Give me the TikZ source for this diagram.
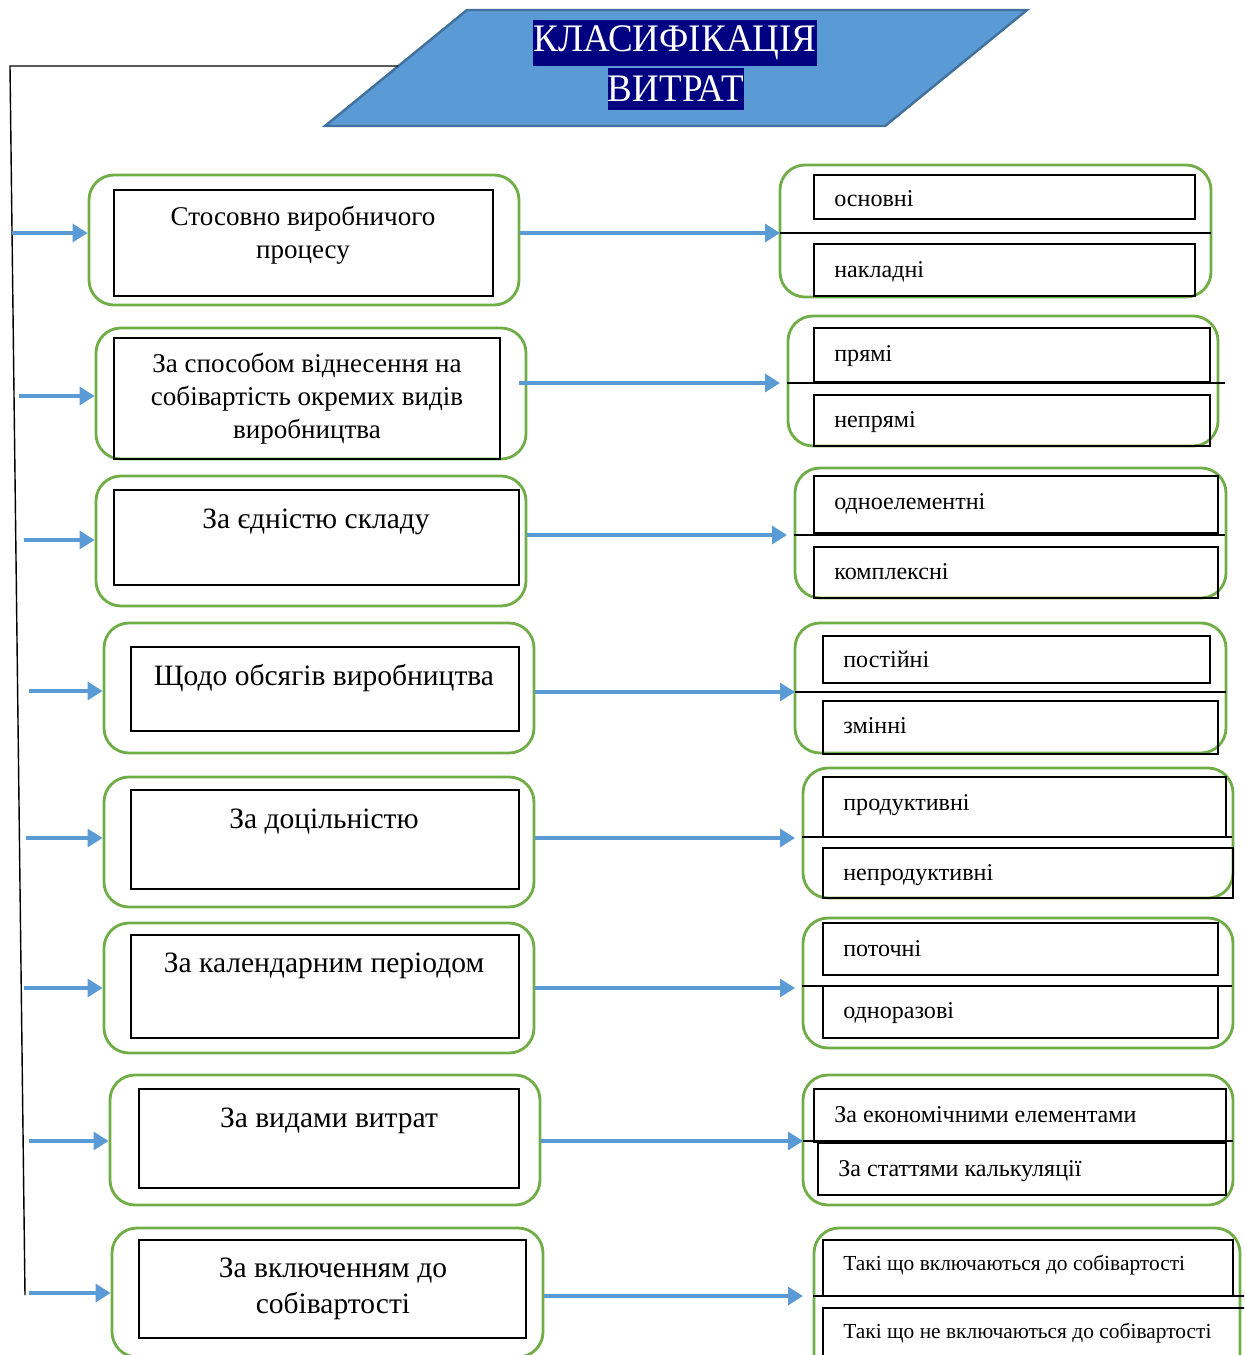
\documentclass[tikz,border=0pt]{standalone}
\usepackage{fontspec}
\setmainfont{Liberation Serif}
\newfontfamily\ttlfont{Liberation Serif}[FakeStretch=0.95]
\usetikzlibrary{arrows.meta,fit}

\definecolor{boxgreen}{HTML}{70AD47}
\definecolor{arrblue}{HTML}{5B9BD5}
\definecolor{titlefill}{HTML}{5B9BD5}
\definecolor{titleedge}{HTML}{41719C}
\definecolor{titlenavy}{HTML}{000080}

\tikzset{
  gbox/.style={draw=boxgreen, line width=1.6pt, rounded corners=0.5cm, inner sep=0pt},
  ibox/.style={draw=black, line width=0.8pt, inner sep=0pt},
  arr/.style={draw=arrblue, line width=1.8pt, -{Triangle[length=0.3cm,width=0.36cm]}},
  ltext/.style={align=center, inner sep=0pt, font=\fontsize{16.8}{20.6}\selectfont},
  ltextsm/.style={ltext, font=\fontsize{15.4}{18.8}\selectfont},
  rtext/.style={anchor=base west, inner sep=0pt, font=\fontsize{13.7}{16}\selectfont},
  rtextsm/.style={rtext, font=\fontsize{12.2}{14}\selectfont},
  divline/.style={draw=black, line width=0.8pt},
  ttl/.style={fill=titlenavy, text=white, inner xsep=0pt, minimum height=0.84cm,
    font=\ttlfont\fontsize{22.2}{24}\selectfont}
}

\begin{document}
\begin{tikzpicture}[x=0.02cm, y=-0.02cm]
\clip (0,0) rectangle (1244,1355);

% Title
\coordinate (p1) at (467,10);
\coordinate (p2) at (1027,10);
\coordinate (p3) at (885,126);
\coordinate (p4) at (325,126);
\draw[fill=titlefill, draw=titleedge, line width=1.4pt] (p1) -- (p2) -- (p3) -- (p4) -- cycle;
\node[ttl] (ttl1) at (675,43) {КЛАСИФІКАЦІЯ};
\node[ttl] (ttl2) at (676,89) {ВИТРАТ};

% Left line
\coordinate (pl) at (398,66);
\coordinate (vtop) at (10,66);
\coordinate (vbot) at (25,1295);
\draw[line width=0.8pt] (pl) -- (vtop) -- (vbot);

% Row 1
\node[gbox, fit={(89,175) (519,305)}] (lg1) {};
\node[ibox, fit={(114,190) (493,296)}] (li1) {};
\node[ltextsm] (lt1) at (303,235) {Стосовно виробничого\\процесу};
\node[gbox, fit={(780,165) (1211,297)}] (rg1) {};
\node[ibox, fit={(814,175) (1195,219)}] (ra1) {};
\node[ibox, fit={(814,244) (1195,296)}] (rb1) {};
\node[rtext] (rat1) at (834,206) {основні};
\node[rtext] (rbt1) at (834,277) {накладні};
\coordinate (s1) at (12,233);
\coordinate (d1) at (780,233);
\draw[arr] (s1) -- (s1 -| lg1.west);
\draw[arr] (lg1.east |- d1) -- (d1);
\draw[divline] (d1) -- ++(431,0);

% Row 2
\node[gbox, fit={(96,328) (526,459)}] (lg2) {};
\node[ibox, fit={(114,338) (500,459)}] (li2) {};
\node[ltextsm] (lt2) at (307,399) {За способом віднесення на\\собівартість окремих видів\\виробництва};
\node[gbox, fit={(788,316) (1218,446)}] (rg2) {};
\node[ibox, fit={(814,328) (1210,382)}] (ra2) {};
\node[ibox, fit={(814,395) (1210,446)}] (rb2) {};
\node[rtext] (rat2) at (834,361) {прямі};
\node[rtext] (rbt2) at (834,427) {непрямі};
\coordinate (s2) at (19,396);
\coordinate (d2) at (780,383);
\draw[arr] (s2) -- (s2 -| lg2.west);
\draw[arr] (519,383) -- (d2);
\draw[divline] (rg2.west |- d2) -- ++(438,0);

% Row 3
\node[gbox, fit={(96,476) (526,606)}] (lg3) {};
\node[ibox, fit={(114,490) (519,585)}] (li3) {};
\node[ltext, anchor=base] (lt3) at (316,528) {За єдністю складу};
\node[gbox, fit={(795,468) (1226,598)}] (rg3) {};
\node[ibox, fit={(814,476) (1218,533)}] (ra3) {};
\node[ibox, fit={(814,547) (1218,598)}] (rb3) {};
\node[rtext] (rat3) at (834,509) {одноелементні};
\node[rtext] (rbt3) at (834,579) {комплексні};
\coordinate (s3) at (24,540);
\coordinate (d3) at (787,535);
\draw[arr] (s3) -- (s3 -| lg3.west);
\draw[arr] (lg3.east |- d3) -- (d3);
\draw[divline] (rg3.west |- d3) -- ++(431,0);

% Row 4
\node[gbox, fit={(104,623) (534,753)}] (lg4) {};
\node[ibox, fit={(131,647) (519,731)}] (li4) {};
\node[ltext, anchor=base] (lt4) at (324,685) {Щодо обсягів виробництва};
\node[gbox, fit={(795,623) (1226,753)}] (rg4) {};
\node[ibox, fit={(823,636) (1210,683)}] (ra4) {};
\node[ibox, fit={(823,701) (1218,754)}] (rb4) {};
\node[rtext] (rat4) at (843,667) {постійні};
\node[rtext] (rbt4) at (843,733) {змінні};
\coordinate (s4) at (29,691);
\coordinate (d4) at (795,692);
\draw[arr] (s4) -- (s4 -| lg4.west);
\draw[arr] (lg4.east |- d4) -- (d4);
\draw[divline] (d4) -- ++(431,0);

% Row 5
\node[gbox, fit={(104,777) (534,907)}] (lg5) {};
\node[ibox, fit={(131,790) (519,889)}] (li5) {};
\node[ltext, anchor=base] (lt5) at (324,828) {За доцільністю};
\node[gbox, fit={(803,768) (1233,898)}] (rg5) {};
\node[ibox, fit={(823,777) (1226,837)}] (ra5) {};
\node[ibox, fit={(823,848) (1233,898)}] (rb5) {};
\node[rtext] (rat5) at (843,810) {продуктивні};
\node[rtext] (rbt5) at (843,880) {непродуктивні};
\coordinate (s5) at (26,838);
\coordinate (d5) at (795,838);
\draw[arr] (s5) -- (s5 -| lg5.west);
\draw[arr] (lg5.east |- d5) -- (d5);
\draw[divline] (rg5.west |- 0,837) -- ++(430,0);

% Row 6
\node[gbox, fit={(104,923) (534,1053)}] (lg6) {};
\node[ibox, fit={(131,935) (519,1038)}] (li6) {};
\node[ltext, anchor=base] (lt6) at (324,972) {За календарним періодом};
\node[gbox, fit={(803,918) (1233,1048)}] (rg6) {};
\node[ibox, fit={(823,923) (1218,975)}] (ra6) {};
\node[ibox, fit={(823,986) (1218,1038)}] (rb6) {};
\node[rtext] (rat6) at (843,956) {поточні};
\node[rtext] (rbt6) at (843,1018) {одноразові};
\coordinate (s6) at (24,988);
\coordinate (d6) at (795,988);
\draw[arr] (s6) -- (s6 -| lg6.west);
\draw[arr] (lg6.east |- d6) -- (d6);
\draw[divline] (rg6.west |- 0,986) -- ++(430,0);

% Row 7
\node[gbox, fit={(110,1075) (540,1205)}] (lg7) {};
\node[ibox, fit={(139,1089) (519,1188)}] (li7) {};
\node[ltext, anchor=base] (lt7) at (329,1127) {За видами витрат};
\node[gbox, fit={(803,1075) (1233,1205)}] (rg7) {};
\node[ibox, fit={(814,1089) (1226,1142)}] (ra7) {};
\node[ibox, fit={(818,1143) (1226,1195)}] (rb7) {};
\node[rtext] (rat7) at (834,1122) {За економічними елементами};
\node[rtext] (rbt7) at (838,1176) {За статтями калькуляції};
\coordinate (s7) at (29,1141);
\coordinate (d7) at (803,1141);
\draw[arr] (s7) -- (s7 -| lg7.west);
\draw[arr] (lg7.east |- d7) -- (d7);
\draw[divline] (d7) -- ++(430,0);

% Row 8
\node[gbox, fit={(112,1228) (543,1357)}] (lg8) {};
\node[ibox, fit={(139,1240) (526,1338)}] (li8) {};
\node[ltext] (lt8) at (333,1289) {За включенням до\\собівартості};
\node[gbox, fit={(814,1228) (1240,1385)}] (rg8) {};
\node[ibox, fit={(823,1240) (1233,1296)}] (ra8) {};
\node[ibox, fit={(823,1308) (1250,1385)}] (rb8) {};
\node[rtextsm] (rat8) at (843,1270) {Такі що включаються до собівартості};
\node[rtextsm] (rbt8) at (843,1338) {Такі що не включаються до собівартості};
\coordinate (s8) at (29,1293);
\coordinate (d8) at (803,1296);
\draw[arr] (s8) -- (s8 -| lg8.west);
\draw[arr] (lg8.east |- d8) -- (d8);
\draw[divline] (rg8.west |- d8) -- ++(440,0);

\end{tikzpicture}
\end{document}
